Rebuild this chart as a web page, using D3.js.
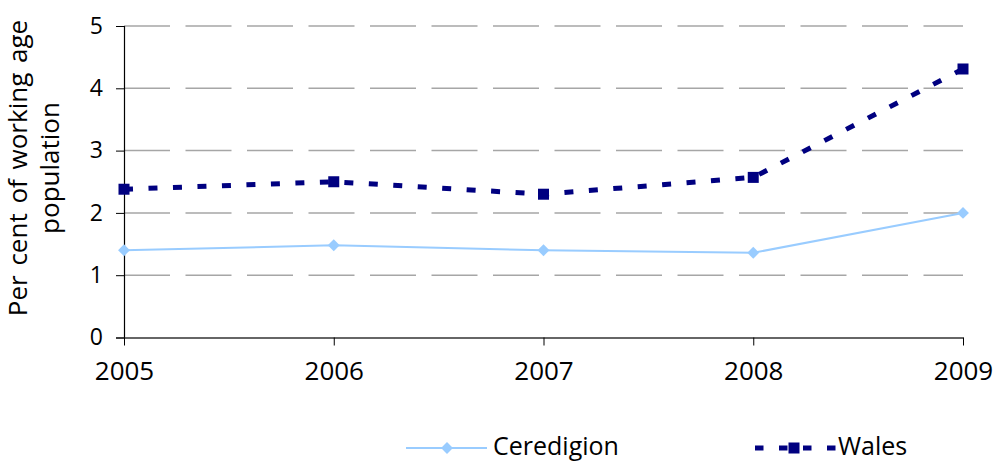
<!DOCTYPE html>
<html>
<head>
<meta charset="utf-8">
<script src="https://cdn.jsdelivr.net/npm/d3@7"></script>
<style>
  body { margin: 0; background: #fff; }
  svg { display: block; font-family: "Open Sans", sans-serif; }
</style>
</head>
<body>
<svg id="chart" width="996" height="461"></svg>
<script>
const years = [2005, 2006, 2007, 2008, 2009];
const ceredigion = [1.40, 1.48, 1.40, 1.36, 2.00];
const wales = [2.38, 2.50, 2.30, 2.57, 4.31];
const yTicks = [0, 1, 2, 3, 4, 5];

const svg = d3.select('#chart');
const x = d3.scalePoint().domain(years).range([124, 963]);
const y = d3.scaleLinear().domain([0, 5]).range([337.5, 26]);

// gridlines
svg.append('g')
    .selectAll('line')
    .data(yTicks.filter((d) => d > 0))
    .join('line')
    .attr('x1', 124)
    .attr('x2', 963)
    .attr('y1', (d) => y(d))
    .attr('y2', (d) => y(d))
    .attr('stroke', '#a6a6a6')
    .attr('stroke-width', 1.5)
    .attr('stroke-dasharray', '46,15.5');

// y axis
const yAxis = svg.append('g')
    .attr('transform', 'translate(124,0)')
    .call(d3.axisLeft(y).tickValues(yTicks).tickFormat(d3.format('d')).tickSize(8).tickPadding(13));
yAxis.select('.domain').attr('stroke', '#000').attr('stroke-width', 1.2);
yAxis.selectAll('.tick line').attr('stroke', '#000');
yAxis.selectAll('text')
    .attr('font-size', 23)
    .attr('font-family', '"Open Sans", sans-serif')
    .attr('fill', '#000');

// x axis
const xAxis = svg.append('g')
    .attr('transform', `translate(0,${y(0)})`)
    .call(d3.axisBottom(x).tickSize(8).tickPadding(16).tickSizeOuter(0));
xAxis.select('.domain').attr('stroke', '#333').attr('stroke-width', 1.5);
xAxis.selectAll('.tick line').attr('stroke', '#000');
xAxis.selectAll('text')
    .attr('font-size', 26)
    .attr('font-family', '"Open Sans", sans-serif')
    .attr('fill', '#000');

// axis title
const title = svg.append('text')
    .attr('transform', 'translate(0,168) rotate(-90)')
    .attr('text-anchor', 'middle')
    .attr('font-size', 26)
    .attr('fill', '#000');
title.append('tspan').attr('x', 0).attr('y', 27).attr('word-spacing', 3).text('Per cent of working age');
title.append('tspan').attr('x', 0).attr('y', 59).text('population');

const line = d3.line()
    .x((d, i) => x(years[i]))
    .y((d) => y(d));

// Ceredigion
svg.append('path')
    .datum(ceredigion)
    .attr('d', line)
    .attr('fill', 'none')
    .attr('stroke', '#99ccff')
    .attr('stroke-width', 2);
const diamond = d3.symbol().type(d3.symbolDiamond2).size(90);
svg.append('g')
    .selectAll('path')
    .data(ceredigion)
    .join('path')
    .attr('d', diamond)
    .attr('transform', (d, i) => `translate(${x(years[i])},${y(d)})`)
    .attr('fill', '#99ccff');

// Wales
svg.append('path')
    .datum(wales)
    .attr('d', line)
    .attr('fill', 'none')
    .attr('stroke', '#000080')
    .attr('stroke-width', 5)
    .attr('stroke-dasharray', '9,15.5');
svg.append('g')
    .selectAll('rect')
    .data(wales)
    .join('rect')
    .attr('x', (d, i) => x(years[i]) - 5.5)
    .attr('y', (d) => y(d) - 5.5)
    .attr('width', 11)
    .attr('height', 11)
    .attr('fill', '#000080');

// legend
const legend = svg.append('g');
const ly = 448;
legend.append('line')
    .attr('x1', 406).attr('x2', 487).attr('y1', ly).attr('y2', ly)
    .attr('stroke', '#99ccff').attr('stroke-width', 2);
legend.append('path')
    .attr('d', diamond)
    .attr('transform', `translate(447,${ly})`)
    .attr('fill', '#99ccff');
legend.append('text')
    .attr('x', 493).attr('y', ly + 7)
    .attr('font-size', 25).attr('fill', '#000')
    .text('Ceredigion');

legend.append('line')
    .attr('x1', 755).attr('x2', 837).attr('y1', ly).attr('y2', ly)
    .attr('stroke', '#000080').attr('stroke-width', 5)
    .attr('stroke-dasharray', '8.5,15.5');
legend.append('rect')
    .attr('x', 788.5).attr('y', ly - 5.5).attr('width', 11).attr('height', 11)
    .attr('fill', '#000080');
legend.append('text')
    .attr('x', 838).attr('y', ly + 7)
    .attr('font-size', 25).attr('fill', '#000')
    .text('Wales');
</script>
</body>
</html>
